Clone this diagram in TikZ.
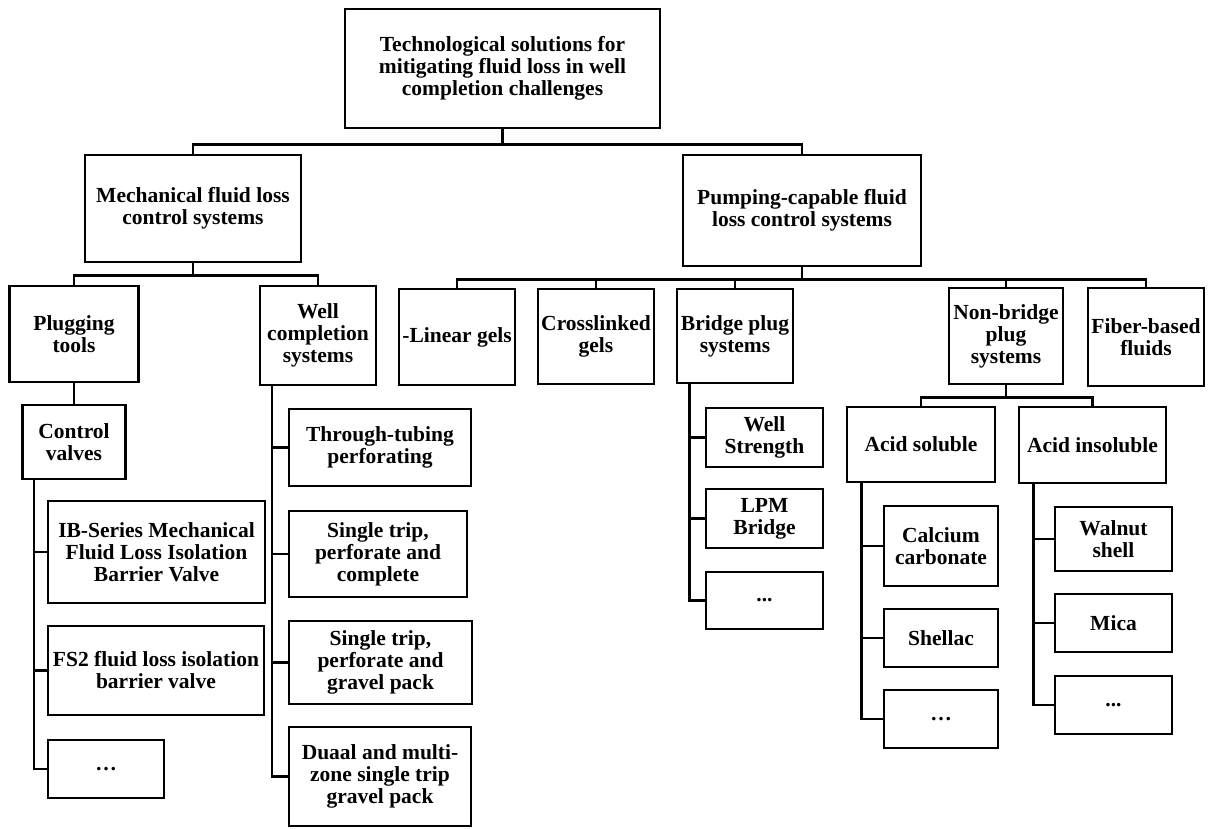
\documentclass[tikz,border=0pt]{standalone}
\usepackage{fontspec}
\setmainfont{Liberation Serif}
\begin{document}
\begin{tikzpicture}[x=1pt,y=-1pt,
  box/.style={draw=black, line width=2.6pt, fill=white, inner sep=0pt, align=center,
    font=\fontsize{21.5}{22}\selectfont\bfseries},
  conn/.style={draw=black, line width=2.6pt}]
\fill[white] (0,0) rectangle (1212,828);
\useasboundingbox (0,0) rectangle (1212,828);

% level 0
\node[box, minimum width=315pt, minimum height=119pt] (top) at (502.5,68.5) {Technological solutions for\\mitigating fluid loss in well\\completion challenges};
% level 1
\node[box, minimum width=216pt, minimum height=107pt] (mech) at (193,208.5) {Mechanical fluid loss\\control systems};
\node[box, minimum width=238pt, minimum height=111pt] (pump) at (802,210.5) {Pumping-capable fluid\\loss control systems};
% level 2
\node[box, minimum width=129pt, minimum height=96pt] (plug) at (74,334) {Plugging\\tools};
\node[box, minimum width=116pt, minimum height=99pt] (wellc) at (318,335.5) {Well\\completion\\systems};
\node[box, minimum width=116pt, minimum height=96pt] (linear) at (457,337) {-Linear gels};
\node[box, minimum width=116pt, minimum height=95pt] (cross) at (596,336.5) {Crosslinked\\gels};
\node[box, minimum width=116pt, minimum height=94pt] (bridge) at (735,336) {Bridge plug\\systems};
\node[box, minimum width=114pt, minimum height=96pt] (nonbridge) at (1006,336) {Non-bridge\\plug\\systems};
\node[box, minimum width=116pt, minimum height=98pt] (fiber) at (1146,337) {Fiber-based\\fluids};
% plugging subtree
\node[box, minimum width=103pt, minimum height=74pt] (control) at (74,442) {Control\\valves};
\node[box, minimum width=217pt, minimum height=102pt] (ib) at (156.5,552) {IB-Series Mechanical\\Fluid Loss Isolation\\Barrier Valve};
\node[box, minimum width=216pt, minimum height=89pt] (fstwo) at (156,670.5) {FS2 fluid loss isolation\\barrier valve};
\node[box, minimum width=116pt, minimum height=58pt] (dotsa) at (106,769) {\ldots};
% well completion subtree
\node[box, minimum width=182pt, minimum height=77pt] (tt) at (380,447.5) {Through-tubing\\perforating};
\node[box, minimum width=178pt, minimum height=86pt] (stc) at (378,554) {Single trip,\\perforate and\\complete};
\node[box, minimum width=183pt, minimum height=83pt] (stg) at (380.5,662.5) {Single trip,\\perforate and\\gravel pack};
\node[box, minimum width=182pt, minimum height=99pt] (duaal) at (380,776.5) {Duaal and multi-\\zone single trip\\gravel pack};
% bridge plug subtree
\node[box, minimum width=117pt, minimum height=59pt] (ws) at (764.5,437.5) {Well\\Strength};
\node[box, minimum width=117pt, minimum height=59pt] (lpm) at (764.5,518.5) {LPM\\Bridge};
\node[box, minimum width=117pt, minimum height=57pt] (dotsb) at (764.5,600.5) {...};
% non-bridge subtree
\node[box, minimum width=148pt, minimum height=75pt] (acs) at (921,444.5) {Acid soluble};
\node[box, minimum width=147pt, minimum height=76pt] (aci) at (1092.5,445) {Acid insoluble};
\node[box, minimum width=114pt, minimum height=80pt] (cc) at (941,546) {Calcium\\carbonate};
\node[box, minimum width=114pt, minimum height=58pt] (shellac) at (941,638) {Shellac};
\node[box, minimum width=114pt, minimum height=58pt] (dotsc) at (941,719) {\ldots};
\node[box, minimum width=117pt, minimum height=64pt] (walnut) at (1113.5,539) {Walnut\\shell};
\node[box, minimum width=117pt, minimum height=58pt] (mica) at (1113.5,623) {Mica};
\node[box, minimum width=117pt, minimum height=58pt] (dotsd) at (1113.5,705) {...};

% connectors level 0 -> 1
\draw[conn] (top.south) -- ++(0,15) -| (mech.north);
\draw[conn] (top.south) -- ++(0,15) -| (pump.north);
% level 1 -> 2
\draw[conn] (mech.south) -- ++(0,12) -| (plug.north);
\draw[conn] (mech.south) -- ++(0,12) -| (wellc.north);
\foreach \n in {linear,cross,bridge,nonbridge,fiber}
  \draw[conn] (pump.south) -- ++(0,12) -| (\n.north);
% plugging
\draw[conn] (plug.south) -- (control.north);
\foreach \n in {ib,fstwo,dotsa}
  \draw[conn] ([xshift=-40pt]control.south) |- (\n.west);
% well completion
\foreach \n in {tt,stc,stg,duaal}
  \draw[conn] ([xshift=-46pt]wellc.south) |- (\n.west);
% bridge
\foreach \n in {ws,lpm,dotsb}
  \draw[conn] ([xshift=-45.5pt]bridge.south) |- (\n.west);
% non-bridge
\draw[conn] (nonbridge.south) -- ++(0,12) -| (acs.north);
\draw[conn] (nonbridge.south) -- ++(0,12) -| (aci.north);
\foreach \n in {cc,shellac,dotsc}
  \draw[conn] ([xshift=-59.5pt]acs.south) |- (\n.west);
\foreach \n in {walnut,mica,dotsd}
  \draw[conn] ([xshift=-59pt]aci.south) |- (\n.west);
\end{tikzpicture}
\end{document}
